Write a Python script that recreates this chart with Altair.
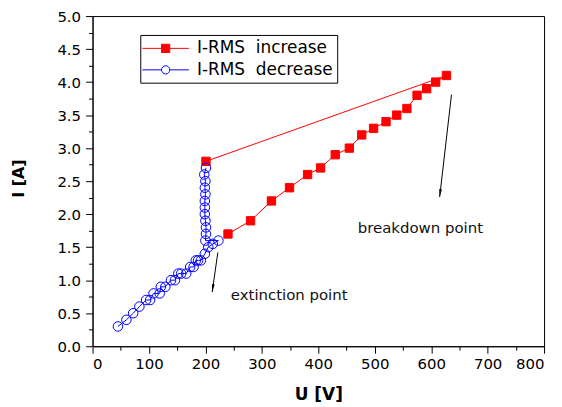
import math
import altair as alt
import pandas as pd

# ---- data ----
inc_name = "I-RMS\u00a0 increase"
dec_name = "I-RMS\u00a0 decrease"

inc_u = [240, 280, 317, 349, 381, 404, 430, 455, 477, 498, 520, 539, 557, 575, 592, 608, 627, 201]
inc_i = [1.7, 1.9, 2.2, 2.4, 2.6, 2.7, 2.9, 3.0, 3.2, 3.3, 3.4, 3.5, 3.6, 3.8, 3.9, 4.0, 4.1, 2.8]

dec_u = [201, 198, 200, 199, 200, 199, 199, 199, 200, 201, 201, 200,
         223, 213, 205, 199, 192, 187, 183, 179, 173, 166, 157, 152,
         146, 139, 129, 121, 119, 108, 102, 95, 83, 72, 60, 45]
dec_i = [2.7, 2.6, 2.5, 2.4, 2.3, 2.2, 2.1, 2.0, 1.9, 1.8, 1.7, 1.6,
         1.6, 1.55, 1.5, 1.4, 1.3, 1.3, 1.3, 1.2, 1.2, 1.1, 1.1, 1.1,
         1.0, 1.0, 0.9, 0.9, 0.8, 0.8, 0.7, 0.7, 0.6, 0.5, 0.4, 0.3]

ann_text = ["breakdown point", "extinction point"]
ann_u = [470, 245]
ann_i = [1.79, 0.78]

arrow_u1 = [636, 222]
arrow_i1 = [3.81, 1.42]
arrow_u2 = [615, 212]
arrow_i2 = [2.26, 0.82]

x_ticks = list(range(0, 801, 50))
y_ticks = [k * 0.25 for k in range(0, 21)]

# ---- layout ----
W, H = 454, 332
XMAX, YMAX = 800, 5
FONT = "DejaVu Sans"

rows = []
for k, (u, i) in enumerate(zip(inc_u, inc_i)):
    rows.append({"series": inc_name, "u": u, "i": i, "idx": k})
for k, (u, i) in enumerate(zip(dec_u, dec_i)):
    rows.append({"series": dec_name, "u": u, "i": i, "idx": k})
df = pd.DataFrame(rows)

def ang(u1, i1, u2, i2):
    dx = (u2 - u1) * W / XMAX
    dy = -(i2 - i1) * H / YMAX
    return math.degrees(math.atan2(dx, -dy)) % 360

arrows = pd.DataFrame({
    "u": arrow_u1, "i": arrow_i1, "u2": arrow_u2, "i2": arrow_i2,
    "ang": [ang(a, b, c, d) for a, b, c, d in zip(arrow_u1, arrow_i1, arrow_u2, arrow_i2)],
})
ann = pd.DataFrame({"u": ann_u, "i": ann_i, "t": ann_text})

domain = [inc_name, dec_name]
stroke_range = ["#ff0000", "#0000ff"]
fill_range = ["#ff0000", "transparent"]

xaxis = alt.Axis(
    values=x_ticks,
    labelExpr="datum.value % 100 === 0 ? datum.label : ''",
    tickSize={"condition": {"test": "datum.value % 100 === 0", "value": 7}, "value": 4},
    labelPadding=3,
    labelFontSize=15,
    labelOverlap=False,
    title="U [V]",
    titleFontSize=17,
    titleFontWeight="bold",
    titleX=227,
    titleY=54,
    titleBaseline="alphabetic",
)
yaxis = alt.Axis(
    values=y_ticks,
    format=".1f",
    labelExpr="datum.value % 0.5 === 0 ? datum.label : ''",
    tickSize={"condition": {"test": "datum.value % 0.5 === 0", "value": 7}, "value": 4},
    labelPadding=5,
    labelFontSize=15,
    labelOverlap=False,
    title="I [A]",
    titleFontSize=16,
    titleFontWeight="bold",
    titleX=-69,
    titleY=163,
    titleBaseline="alphabetic",
    titleAlign="center",
)

X = alt.X("u:Q", scale=alt.Scale(domain=[0, XMAX], nice=False, zero=False), axis=xaxis)
Y = alt.Y("i:Q", scale=alt.Scale(domain=[0, YMAX], nice=False, zero=False), axis=yaxis)

lines = alt.Chart(df).mark_line(strokeWidth=1).encode(
    x=X, y=Y, order="idx:Q",
    stroke=alt.Stroke("series:N", scale=alt.Scale(domain=domain, range=stroke_range), legend=None),
)

points = alt.Chart(df).mark_point(strokeWidth=1, opacity=1).encode(
    x=X, y=Y,
    shape=alt.Shape("series:N", scale=alt.Scale(domain=domain, range=["square", "circle"]), legend=None),
    fill=alt.Fill("series:N", scale=alt.Scale(domain=domain, range=fill_range), legend=None),
    stroke=alt.Stroke("series:N", scale=alt.Scale(domain=domain, range=stroke_range), legend=None),
    size=alt.Size("series:N", scale=alt.Scale(domain=domain, range=[70, 92]), legend=None),
)

sq = "M-2.6,0H2.6M-0.46,-0.46H0.46V0.46H-0.46Z"
ci = "M-2.6,0H-0.46M0.46,0H2.6M0.46,0A0.46,0.46 0 1,1 -0.46,0A0.46,0.46 0 1,1 0.46,0Z"

leg = alt.Legend(
    title=None, orient="none", legendX=48, legendY=19,
    padding=4, fillColor="white", strokeColor="black", cornerRadius=0,
    symbolSize=324, symbolStrokeWidth=1, symbolOffset=12, symbolOpacity=1,
    labelOffset=22, labelFont=FONT, labelFontSize=17, labelColor="black",
    rowPadding=3.6, labelLimit=400,
)

legend_layer = alt.Chart(df).mark_point(opacity=0).encode(
    x=X, y=Y,
    shape=alt.Shape("series:N", scale=alt.Scale(domain=domain, range=[sq, ci]), legend=leg),
    fill=alt.Fill("series:N", scale=alt.Scale(domain=domain, range=fill_range), legend=leg),
    stroke=alt.Stroke("series:N", scale=alt.Scale(domain=domain, range=stroke_range), legend=leg),
)

rules = alt.Chart(arrows).mark_rule(strokeWidth=1, color="black").encode(
    x=X, y=Y, x2="u2:Q", y2="i2:Q"
)
heads = alt.Chart(arrows).mark_point(
    shape="M0,0L0.35,2L-0.35,2Z", filled=True, color="black", size=64, opacity=1
).encode(
    x=alt.X("u2:Q", scale=alt.Scale(domain=[0, XMAX], nice=False, zero=False), axis=xaxis),
    y=alt.Y("i2:Q", scale=alt.Scale(domain=[0, YMAX], nice=False, zero=False), axis=yaxis),
    angle=alt.Angle("ang:Q", scale=None),
)

texts = alt.Chart(ann).mark_text(
    align="left", baseline="middle", font=FONT, fontSize=15, color="#111111"
).encode(x=X, y=Y, text="t:N")

chart = alt.layer(lines, points, legend_layer, rules, heads, texts).resolve_scale(
    shape="independent", fill="independent", stroke="independent", size="independent"
).properties(
    width=W, height=H,
    padding={"left": 85, "top": 7, "right": 10, "bottom": 60},
    autosize=alt.AutoSizeParams(type="none"),
    background="white",
).configure_view(
    stroke="black", strokeWidth=1
).configure_axis(
    grid=False, domainColor="black", tickColor="black", tickWidth=1,
    labelColor="black", titleColor="black", labelFont=FONT, titleFont=FONT,
)

chart.save("out.html", embed_options={"renderer": "svg", "actions": False})
